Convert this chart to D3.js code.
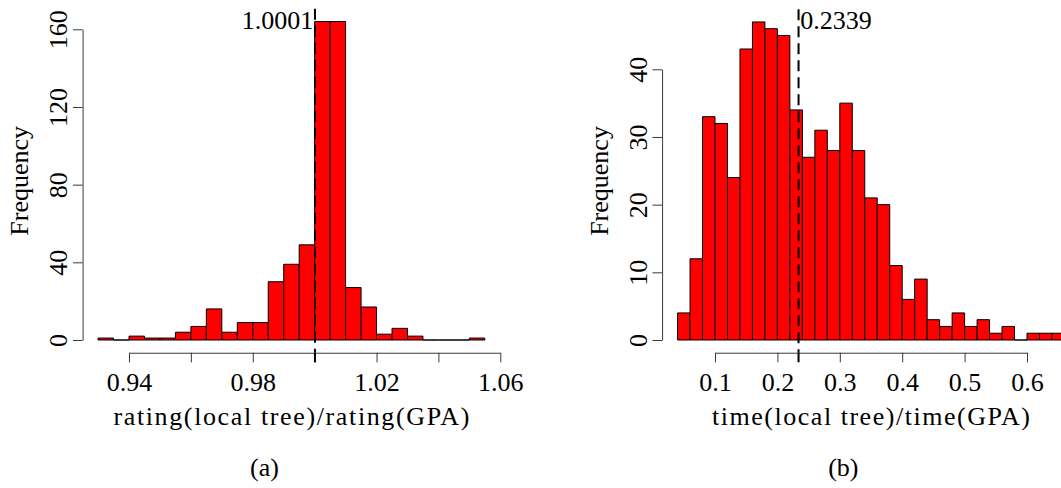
<!DOCTYPE html>
<html>
<head>
<meta charset="utf-8">
<script src="https://cdn.jsdelivr.net/npm/d3@7"></script>
<style>
  html, body { margin: 0; padding: 0; background: #fff; }
  svg { display: block; }
  svg text { font-family: "Liberation Serif", "DejaVu Serif", serif; }
</style>
</head>
<body>
<svg id="fig" width="1061" height="488" font-family="Liberation Serif, DejaVu Serif, serif"></svg>
<script>
// ---- Panel (a): rating(local tree)/rating(GPA) ----
const ratingBinStarts = [0.930, 0.935, 0.940, 0.945, 0.950, 0.955, 0.960, 0.965, 0.970, 0.975,
                         0.980, 0.985, 0.990, 0.995, 1.000, 1.005, 1.010, 1.015, 1.020, 1.025,
                         1.030, 1.035, 1.040, 1.045, 1.050];
const ratingBinWidth = 0.005;
const ratingCounts = [1, 0, 2, 1, 1, 4, 7, 16, 4, 9,
                      9, 30, 39, 49, 164, 164, 27, 17, 3, 6,
                      2, 0, 0, 0, 1];
const ratingXTicks = [0.94, 0.96, 0.98, 1.00, 1.02, 1.04, 1.06];
const ratingXTickLabels = ["0.94", "", "0.98", "", "1.02", "", "1.06"];
const ratingYTicks = [0, 40, 80, 120, 160];
const ratingMean = 1.0001;
const ratingMeanLabel = "1.0001";

// ---- Panel (b): time(local tree)/time(GPA) ----
const timeBinStarts = [0.04, 0.06, 0.08, 0.10, 0.12, 0.14, 0.16, 0.18, 0.20, 0.22,
                       0.24, 0.26, 0.28, 0.30, 0.32, 0.34, 0.36, 0.38, 0.40, 0.42,
                       0.44, 0.46, 0.48, 0.50, 0.52, 0.54, 0.56, 0.58, 0.60, 0.62, 0.64];
const timeBinWidth = 0.02;
const timeCounts = [4, 12, 33, 32, 24, 43, 47, 46, 45, 34,
                    27, 31, 28, 35, 28, 21, 20, 11, 6, 9,
                    3, 2, 4, 2, 3, 1, 2, 0, 1, 1, 1];
const timeXTicks = [0.1, 0.2, 0.3, 0.4, 0.5, 0.6];
const timeXTickLabels = ["0.1", "0.2", "0.3", "0.4", "0.5", "0.6"];
const timeYTicks = [0, 10, 20, 30, 40];
const timeMean = 0.2339;
const timeMeanLabel = "0.2339";

const svg = d3.select("#fig");
const SERIF = "Liberation Serif, DejaVu Serif, serif";
const FONT = 26;
const TICK = 9.6;
const AXIS_COLOR = "#3a3a3a";

function drawPanel(p) {
  const x = d3.scaleLinear().domain([p.xTicks[0], p.xTicks[p.xTicks.length - 1]]).range(p.xRange);
  const y = d3.scaleLinear().domain([p.yTicks[0], p.yTicks[p.yTicks.length - 1]]).range(p.yRange);

  // plot region, padded 4% around the data range
  const xmin = p.binStarts[0];
  const xmax = p.binStarts[p.binStarts.length - 1] + p.binWidth;
  const ymax = d3.max(p.counts);
  const left = x(xmin - 0.04 * (xmax - xmin));
  const right = x(xmax + 0.04 * (xmax - xmin));
  const top = y(ymax * 1.04);
  const bottom = y(-0.04 * ymax);

  const g = svg.append("g").attr("font-family", SERIF);

  // bars (zero-count bins collapse into a line on the baseline)
  g.selectAll("path.bar")
    .data(p.binStarts.map((s, i) => ({ s, c: p.counts[i] })))
    .join("path")
    .attr("class", "bar")
    .attr("d", d => {
      const x0 = x(d.s), x1 = x(d.s + p.binWidth), y0 = y(0), y1 = y(d.c);
      return `M${x0},${y0}V${y1}H${x1}V${y0}Z`;
    })
    .attr("fill", "#ff0000")
    .attr("stroke", "#000")
    .attr("stroke-width", 1);

  // x axis
  const xAxis = g.append("g")
    .attr("transform", `translate(0,${bottom})`)
    .call(d3.axisBottom(x).tickValues(p.xTicks).tickSize(TICK).tickSizeOuter(0)
      .tickFormat((d, i) => p.xTickLabels[i]));
  xAxis.attr("font-family", SERIF).attr("font-size", FONT);
  xAxis.selectAll("path, line").attr("stroke", AXIS_COLOR).attr("stroke-width", 1);
  xAxis.selectAll("text").attr("fill", "#000").attr("y", 391.5 - bottom).attr("dy", null);

  // y axis
  const yAxis = g.append("g")
    .attr("transform", `translate(${left},0)`)
    .call(d3.axisLeft(y).tickValues(p.yTicks).tickSize(TICK).tickSizeOuter(0));
  yAxis.attr("font-family", SERIF).attr("font-size", FONT);
  yAxis.selectAll("path, line").attr("stroke", AXIS_COLOR).attr("stroke-width", 1);
  yAxis.selectAll("text")
    .attr("fill", "#000")
    .attr("x", null).attr("dy", null)
    .attr("text-anchor", "middle")
    .attr("transform", "translate(-15.3,0) rotate(-90)");

  // mean marker: dashed line across the plot region plus a heavier tick
  const mx = x(p.mean);
  g.append("line")
    .attr("x1", mx).attr("x2", mx).attr("y1", top).attr("y2", bottom)
    .attr("stroke", "#000").attr("stroke-width", 2).attr("stroke-dasharray", "11,6");
  g.append("line")
    .attr("x1", mx).attr("x2", mx).attr("y1", bottom).attr("y2", bottom + TICK)
    .attr("stroke", "#000").attr("stroke-width", 2);
  g.append("text")
    .attr("x", p.meanSide === "left" ? mx - 1.8 : mx + 1.8)
    .attr("y", 29.3)
    .attr("text-anchor", p.meanSide === "left" ? "end" : "start")
    .attr("font-size", FONT)
    .text(p.meanLabel);

  // axis titles
  g.append("text")
    .attr("x", (left + right) / 2)
    .attr("y", 425)
    .attr("text-anchor", "middle")
    .attr("font-size", FONT)
    .attr("textLength", p.xTitleLength)
    .attr("lengthAdjust", "spacing")
    .text(p.xTitle);
  g.append("text")
    .attr("transform", `translate(${left - 54.5},${(top + bottom) / 2}) rotate(-90)`)
    .attr("text-anchor", "middle")
    .attr("font-size", FONT)
    .text("Frequency");

  // sub-figure caption
  g.append("text")
    .attr("x", p.captionX)
    .attr("y", 476)
    .attr("text-anchor", "middle")
    .attr("font-size", FONT)
    .text(p.caption);
}

drawPanel({
  binStarts: ratingBinStarts, binWidth: ratingBinWidth, counts: ratingCounts,
  xTicks: ratingXTicks, xTickLabels: ratingXTickLabels, yTicks: ratingYTicks,
  xRange: [129, 500.3], yRange: [340, 29.3],
  mean: ratingMean, meanLabel: ratingMeanLabel, meanSide: "left",
  xTitle: "rating(local tree)/rating(GPA)", xTitleLength: 356,
  caption: "(a)", captionX: 264.5
});

drawPanel({
  binStarts: timeBinStarts, binWidth: timeBinWidth, counts: timeCounts,
  xTicks: timeXTicks, xTickLabels: timeXTickLabels, yTicks: timeYTicks,
  xRange: [715, 1027], yRange: [340, 69.3],
  mean: timeMean, meanLabel: timeMeanLabel, meanSide: "right",
  xTitle: "time(local tree)/time(GPA)", xTitleLength: 318,
  caption: "(b)", captionX: 843.3
});
</script>
</body>
</html>
